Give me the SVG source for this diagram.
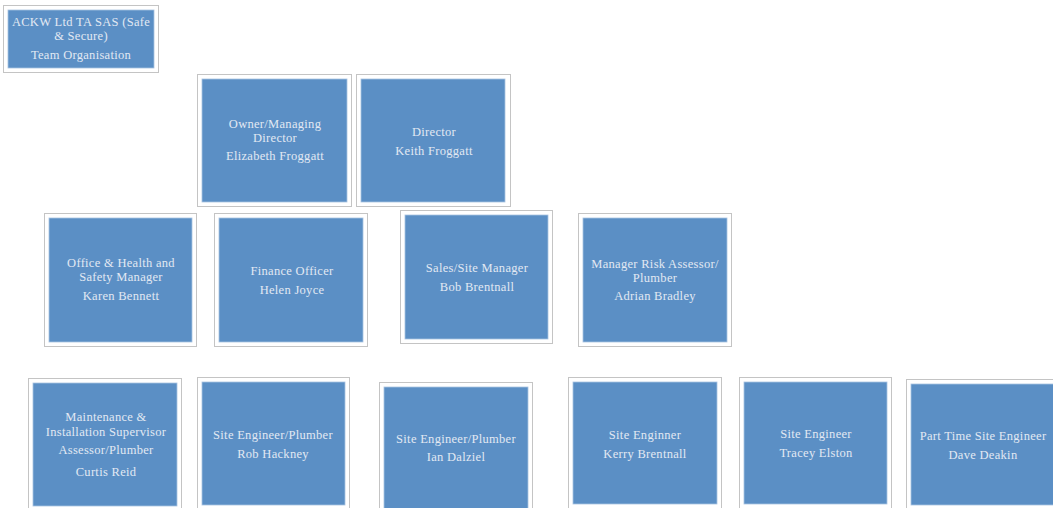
<svg xmlns="http://www.w3.org/2000/svg" width="1053" height="508" viewBox="0 0 1053 508">
<style>
.frame{fill:#ffffff;stroke:#c4c4c4;stroke-width:1}
.box{fill:#5b8fc5;stroke:#a9c3e0;stroke-width:0.8}
.t{font-family:"Liberation Serif","DejaVu Serif",serif;font-size:12.5px;letter-spacing:0.3px;fill:#e2e9f3;text-anchor:middle}
</style>
<rect width="1053" height="508" fill="#ffffff"/>
<g id="title">
<rect class="frame" x="3.5" y="5.5" width="155" height="67"/>
<rect class="box" x="8" y="10" width="146" height="58"/>
<text class="t" x="81" y="26">ACKW Ltd TA SAS (Safe</text>
<text class="t" x="81" y="40">&amp; Secure)</text>
<text class="t" x="81" y="59">Team Organisation</text>
</g>
<g id="owner">
<rect class="frame" x="197.5" y="74.5" width="154" height="132"/>
<rect class="box" x="202" y="79" width="145" height="123"/>
<text class="t" x="275" y="128">Owner/Managing</text>
<text class="t" x="275" y="142">Director</text>
<text class="t" x="275" y="160">Elizabeth Froggatt</text>
</g>
<g id="director">
<rect class="frame" x="356.5" y="74.5" width="154" height="132"/>
<rect class="box" x="361" y="79" width="144" height="123"/>
<text class="t" x="434" y="136">Director</text>
<text class="t" x="434" y="155">Keith Froggatt</text>
</g>
<g id="office">
<rect class="frame" x="44.5" y="213.5" width="152" height="133"/>
<rect class="box" x="49" y="218" width="143" height="124"/>
<text class="t" x="121" y="267">Office &amp; Health and</text>
<text class="t" x="121" y="281">Safety Manager</text>
<text class="t" x="121" y="300">Karen Bennett</text>
</g>
<g id="finance">
<rect class="frame" x="214.5" y="213.5" width="153" height="133"/>
<rect class="box" x="219" y="218" width="144" height="124"/>
<text class="t" x="292" y="275">Finance Officer</text>
<text class="t" x="292" y="294">Helen Joyce</text>
</g>
<g id="sales">
<rect class="frame" x="400.5" y="210.5" width="152" height="133"/>
<rect class="box" x="405" y="215" width="143" height="124"/>
<text class="t" x="477" y="272">Sales/Site Manager</text>
<text class="t" x="477" y="291">Bob Brentnall</text>
</g>
<g id="risk">
<rect class="frame" x="578.5" y="213.5" width="153" height="133"/>
<rect class="box" x="583" y="218" width="144" height="124"/>
<text class="t" x="655" y="268">Manager Risk Assessor/</text>
<text class="t" x="655" y="282">Plumber</text>
<text class="t" x="655" y="300">Adrian Bradley</text>
</g>
<g id="curtis">
<rect class="frame" x="28.5" y="378.5" width="153" height="135"/>
<rect class="box" x="33" y="383" width="144" height="123"/>
<text class="t" x="106" y="421">Maintenance &amp;</text>
<text class="t" x="106" y="436">Installation Supervisor</text>
<text class="t" x="106" y="454">Assessor/Plumber</text>
<text class="t" x="106" y="476">Curtis Reid</text>
</g>
<g id="rob">
<rect class="frame" x="197.5" y="377.5" width="152" height="135"/>
<rect class="box" x="202" y="382" width="143" height="123"/>
<text class="t" x="273" y="439">Site Engineer/Plumber</text>
<text class="t" x="273" y="458">Rob Hackney</text>
</g>
<g id="ian">
<rect class="frame" x="379.5" y="382.5" width="153" height="135"/>
<rect class="box" x="384" y="387" width="144" height="125"/>
<text class="t" x="456" y="443">Site Engineer/Plumber</text>
<text class="t" x="456" y="461">Ian Dalziel</text>
</g>
<g id="kerry">
<rect class="frame" x="568.5" y="377.5" width="153" height="135"/>
<rect class="box" x="573" y="382" width="144" height="122"/>
<text class="t" x="645" y="439">Site Enginner</text>
<text class="t" x="645" y="458">Kerry Brentnall</text>
</g>
<g id="tracey">
<rect class="frame" x="739.5" y="377.5" width="152" height="135"/>
<rect class="box" x="744" y="382" width="143" height="122"/>
<text class="t" x="816" y="438">Site Engineer</text>
<text class="t" x="816" y="457">Tracey Elston</text>
</g>
<g id="dave">
<rect class="frame" x="906.5" y="379.5" width="153" height="135"/>
<rect class="box" x="911" y="384" width="144" height="121"/>
<text class="t" x="983" y="440">Part Time Site Engineer</text>
<text class="t" x="983" y="459">Dave Deakin</text>
</g>
<g id="connectors"></g>
</svg>
